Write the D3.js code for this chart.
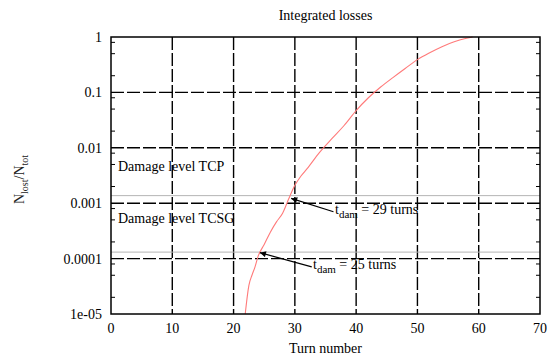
<!DOCTYPE html>
<html>
<head>
<meta charset="utf-8">
<script src="https://cdn.jsdelivr.net/npm/d3@7"></script>
<style>
  html, body { margin: 0; padding: 0; background: #fff; }
  svg { display: block; font-family: "Liberation Serif", "DejaVu Serif", serif; }
</style>
</head>
<body>
<div id="chart"></div>
<script>
// Integrated losses vs turn number
const turns = [21.9, 22.5, 23, 23.5, 24, 25, 26, 27, 28, 29, 30, 31, 32, 34, 36, 38, 40, 42, 44, 46, 48, 50, 52, 54, 56, 58, 59];
const losses = [1e-5, 3.3e-5, 5e-5, 7.1e-5, 1.1e-4, 1.8e-4, 3e-4, 4.6e-4, 6.6e-4, 1.2e-3, 2.1e-3, 3.1e-3, 4.2e-3, 8.2e-3, 0.0145, 0.025, 0.047, 0.08, 0.125, 0.185, 0.27, 0.39, 0.52, 0.67, 0.82, 0.95, 1.0];

const xTicks = [0, 10, 20, 30, 40, 50, 60, 70];
const yTicks = [1e-5, 1e-4, 1e-3, 1e-2, 0.1, 1];
const yTickLabels = ["1e-05", "0.0001", "0.001", "0.01", "0.1", "1"];

const damageNames = ["Damage level TCP", "Damage level TCSG"];
const damageValues = [0.00137, 0.000131];

const annotTurns = [29, 25];
const arrowTips = [[29.4, 1.22e-3], [24.3, 1.28e-4]];
const arrowTails = [[36.3, 7.0e-4], [32.75, 7.1e-5]];

const W = 547, H = 355;
const margin = { left: 111, right: 7, top: 37, bottom: 41 };

const svg = d3.select('#chart').append('svg')
    .attr('width', W)
    .attr('height', H);

const x = d3.scaleLinear().domain([0, 70]).range([margin.left, W - margin.right]);
const y = d3.scaleLog().domain([1e-5, 1]).range([H - margin.bottom, margin.top]);

const x0 = x.range()[0], x1 = x.range()[1];
const y0 = y.range()[0], y1 = y.range()[1];

svg.append('defs').append('marker')
    .attr('id', 'arrow')
    .attr('viewBox', '0 0 10 10')
    .attr('refX', 10).attr('refY', 5)
    .attr('markerWidth', 9).attr('markerHeight', 6)
    .attr('markerUnits', 'userSpaceOnUse')
    .attr('orient', 'auto')
    .append('path')
    .attr('d', 'M0,0 L10,5 L0,10 z')
    .attr('fill', '#000');

// Grid (dashed)
const grid = svg.append('g').attr('stroke', '#000').attr('stroke-width', 1.4).attr('stroke-dasharray', '13,3');
grid.selectAll('line.vx')
    .data(xTicks.slice(1, -1))
    .join('line')
    .attr('x1', d => x(d)).attr('x2', d => x(d))
    .attr('y1', y1).attr('y2', y0);
grid.selectAll('line.hy')
    .data(yTicks.slice(1, -1))
    .join('line')
    .attr('x1', x0).attr('x2', x1)
    .attr('y1', d => y(d)).attr('y2', d => y(d));

// Damage levels (gray)
svg.append('g').selectAll('line')
    .data(damageValues)
    .join('line')
    .attr('x1', x0).attr('x2', x1)
    .attr('y1', d => y(d)).attr('y2', d => y(d))
    .attr('stroke', '#b4b4b4')
    .attr('stroke-width', 1);

// Minor ticks on left and right axes (2, 5, 8 per decade)
const minor = [];
yTicks.slice(0, -1).forEach(t => [2, 5, 8].forEach(m => minor.push(t * m)));
const minorG = svg.append('g').attr('stroke', '#000').attr('stroke-width', 1);
minorG.selectAll('line.l')
    .data(minor)
    .join('line')
    .attr('x1', x0).attr('x2', x0 + 4)
    .attr('y1', d => y(d)).attr('y2', d => y(d));
minorG.selectAll('line.r')
    .data(minor)
    .join('line')
    .attr('x1', x1 - 4).attr('x2', x1)
    .attr('y1', d => y(d)).attr('y2', d => y(d));

// Curve
const line = d3.line()
    .x((d, i) => x(turns[i]))
    .y(d => y(d))
    .curve(d3.curveMonotoneX);
svg.append('path')
    .datum(losses)
    .attr('d', line)
    .attr('fill', 'none')
    .attr('stroke', '#ff7a7a')
    .attr('stroke-width', 1.1);

// Frame
svg.append('rect')
    .attr('x', x0).attr('y', y1)
    .attr('width', x1 - x0).attr('height', y0 - y1)
    .attr('fill', 'none')
    .attr('stroke', '#000')
    .attr('stroke-width', 1.5);

// Tick labels
svg.append('g').selectAll('text')
    .data(xTicks)
    .join('text')
    .attr('x', d => x(d))
    .attr('y', 333)
    .attr('text-anchor', 'middle')
    .attr('font-size', 14)
    .text(d => d);

svg.append('g').selectAll('text')
    .data(yTicks)
    .join('text')
    .attr('x', 102)
    .attr('y', d => y(d))
    .attr('dy', '0.35em')
    .attr('text-anchor', 'end')
    .attr('font-size', 14)
    .text((d, i) => yTickLabels[i]);

// Titles
svg.append('text')
    .attr('x', (x0 + x1) / 2).attr('y', 20)
    .attr('text-anchor', 'middle')
    .attr('font-size', 14)
    .text('Integrated losses');

svg.append('text')
    .attr('x', (x0 + x1) / 2).attr('y', 353)
    .attr('text-anchor', 'middle')
    .attr('font-size', 14)
    .text('Turn number');

const yl = svg.append('text')
    .attr('transform', `translate(24,${(y0 + y1) / 2 + 4}) rotate(-90)`)
    .attr('text-anchor', 'middle')
    .attr('font-size', 14)
    .attr('fill', '#222');
yl.append('tspan').text('N');
yl.append('tspan').attr('font-size', 10).attr('dy', 4).text('lost');
yl.append('tspan').attr('dy', -4).text('/N');
yl.append('tspan').attr('font-size', 10).attr('dy', 4).text('tot');

// Damage level labels
const labelY = [171, 223];
svg.append('g').selectAll('text')
    .data(damageNames)
    .join('text')
    .attr('x', 118)
    .attr('y', (d, i) => labelY[i])
    .attr('font-size', 14)
    .text(d => d);

// Arrows + t_dam annotations
svg.append('g').selectAll('line')
    .data(arrowTips)
    .join('line')
    .attr('x1', (d, i) => x(arrowTails[i][0]))
    .attr('y1', (d, i) => y(arrowTails[i][1]))
    .attr('x2', d => x(d[0]))
    .attr('y2', d => y(d[1]))
    .attr('stroke', '#000')
    .attr('stroke-width', 1.2)
    .attr('marker-end', 'url(#arrow)');

const textPos = [[335, 214], [313, 269]];
annotTurns.forEach((t, i) => {
    const tx = svg.append('text')
        .attr('x', textPos[i][0])
        .attr('y', textPos[i][1])
        .attr('font-size', 14);
    tx.append('tspan').text('t');
    tx.append('tspan').attr('font-size', 11).attr('dy', 4).text('dam');
    tx.append('tspan').attr('dy', -4).text(' = ' + t + ' turns');
});
</script>
</body>
</html>
